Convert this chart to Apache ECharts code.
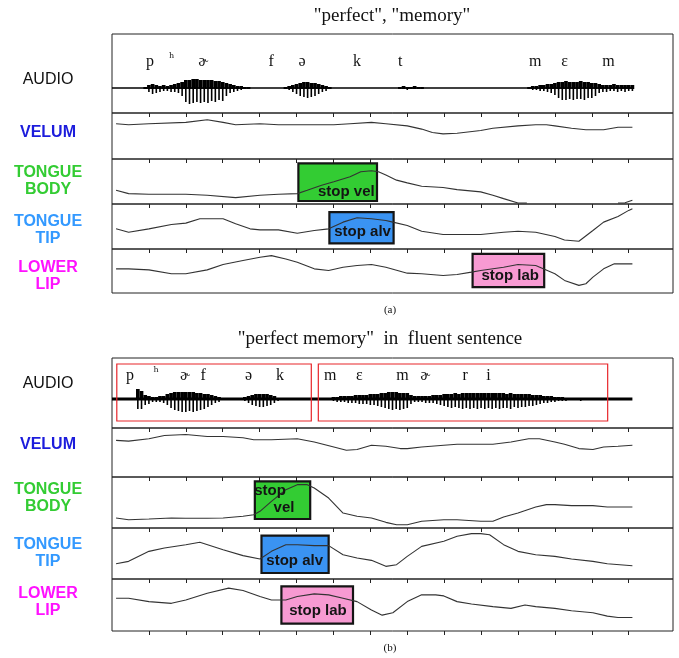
<!DOCTYPE html>
<html><head><meta charset="utf-8">
<script src="https://cdn.jsdelivr.net/npm/echarts@6/dist/echarts.min.js"></script>
<style>html,body{margin:0;padding:0;background:#fff}#c{width:679px;height:658px}</style>
</head><body><div id="c"></div>
<script>
// ---------------- DATA ----------------
const tickTimes = [1,2,3,4,5,6,7,8,9,10,11,12,13,14];
const rowLabels = ['AUDIO','VELUM','TONGUE\nBODY','TONGUE\nTIP','LOWER\nLIP'];
const titleA = '"perfect", "memory"';
const titleB = '"perfect memory"  in  fluent sentence';
const captionA = '(a)';
const captionB = '(b)';

const ipaA  = ['p','ʰ','ɚ','f','ə','k','t','m','ɛ','m'];
const ipaAt = [1.03,1.62,2.47,4.31,5.15,6.64,7.81,11.47,12.26,13.45];
const ipaB  = ['p','ʰ','ɚ','f','ə','k','m','ɛ','m','ɚ','r','i'];
const ipaBt = [0.49,1.2,1.98,2.47,3.7,4.55,5.91,6.7,7.87,8.49,9.57,10.2];

const baselineSpan = [0, 14.1];
const redBoxesB = [[0.13,5.40],[5.59,13.43]];

// audio envelope samples: [time, upward amplitude, downward amplitude]
const audioA = [
 [0.9,1,1],[1.0,3,4],[1.1,4,6],[1.2,3,5],[1.3,2,4],[1.4,3,3],[1.5,2,3],[1.6,3,4],[1.7,4,4],[1.8,5,5],[1.9,6,8],
 [2.0,8,14],[2.1,8,16],[2.2,9,15],[2.3,9,14],[2.4,8,15],[2.5,8,14],[2.6,8,15],[2.7,8,13],[2.8,7,14],[2.9,7,12],[3.0,6,13],[3.1,5,8],
 [3.2,4,5],[3.3,3,4],[3.4,2,3],[3.5,2,2],[3.6,1,1],[3.7,1,1],
 [4.7,1,1],[4.8,2,2],[4.9,3,4],[5.0,4,6],[5.1,5,8],[5.2,6,9],[5.3,6,10],[5.4,5,9],[5.5,5,8],[5.6,4,6],[5.7,3,4],[5.8,2,3],[5.9,1,1],
 [7.8,1,1],[7.9,2,1],[8.0,1,2],[8.1,1,1],[8.2,2,1],[8.3,1,1],[8.4,1,1],
 [11.3,1,1],[11.4,2,2],[11.5,2,2],[11.6,3,3],[11.7,3,3],[11.8,4,4],[11.9,4,5],[12.0,5,7],
 [12.1,6,10],[12.2,6,12],[12.3,7,12],[12.4,6,11],[12.5,6,12],[12.6,6,11],[12.7,7,11],[12.8,6,12],[12.9,6,10],[13.0,5,10],[13.1,5,8],[13.2,4,5],
 [13.3,3,4],[13.4,3,4],[13.5,3,3],[13.6,4,3],[13.7,3,4],[13.8,3,3],[13.9,3,4],[14.0,3,3],[14.1,3,3]
];
const audioB = [
 [0.7,10,10],[0.8,8,10],[0.9,4,6],
 [1.0,3,5],[1.1,2,3],[1.2,2,3],[1.3,3,3],[1.4,3,4],
 [1.5,5,6],[1.6,6,9],[1.7,7,11],[1.8,7,12],[1.9,7,13],[2.0,7,13],[2.1,7,12],[2.2,7,13],[2.3,6,12],[2.4,6,11],[2.5,5,10],[2.6,5,8],[2.7,4,6],[2.8,3,4],[2.9,2,3],[3.0,1,1],
 [3.6,2,2],[3.7,3,4],[3.8,4,6],[3.9,5,7],[4.0,5,8],[4.1,5,8],[4.2,5,7],[4.3,4,6],[4.4,3,4],[4.5,1,2],
 [6.0,2,2],[6.1,2,3],[6.2,3,3],[6.3,3,3],[6.4,3,4],[6.5,3,4],[6.6,4,4],[6.7,4,5],[6.8,4,5],[6.9,4,5],[7.0,5,6],[7.1,5,6],[7.2,5,7],[7.3,6,8],[7.4,6,9],[7.5,7,10],[7.6,7,11],[7.7,7,10],[7.8,6,11],[7.9,6,10],[8.0,6,9],
 [8.1,4,5],[8.2,3,3],[8.3,3,3],[8.4,3,3],[8.5,3,4],[8.6,3,4],[8.7,4,4],[8.8,4,5],[8.9,4,6],
 [9.0,5,7],[9.1,5,8],[9.2,5,9],[9.3,6,8],[9.4,5,9],[9.5,6,10],[9.6,6,9],[9.7,6,10],[9.8,6,9],[9.9,6,10],[10.0,6,9],[10.1,6,10],[10.2,6,9],[10.3,6,10],[10.4,6,9],[10.5,6,10],[10.6,6,9],[10.7,5,9],[10.8,6,10],[10.9,5,8],[11.0,5,9],[11.1,5,8],[11.2,5,8],[11.3,5,7],[11.4,4,7],[11.5,4,6],[11.6,4,5],[11.7,3,4],[11.8,3,4],[11.9,3,3],
 [12.0,2,3],[12.1,2,2],[12.2,2,2],[12.3,1,2],[12.4,1,1],[12.5,1,1],[12.6,1,1],[12.7,1,2],[12.8,1,1],[12.9,1,1]
];

// articulator trajectories: [time, height]
const velumA = [[0.11,76.6],[0.45,74.5],[1.0,76.6],[2.0,79.6],[2.58,85.4],[3.01,79.6],[3.35,74.5],[4.01,76.6],[4.51,74.5],[5.02,74.5],[5.48,74.5],[6.01,74.5],[6.45,76.6],[7.03,79.6],[7.42,76.6],[8.0,72],[8.39,65],[8.68,57.7],[8.97,54.7],[9.35,56],[9.99,62],[10.32,67],[11.0,72],[11.48,74.5],[11.77,74.5],[12.0,72],[12.45,67],[12.84,63.5],[13.32,63.5],[13.71,69],[14.1,69]];
const tongueBodyA = [[0.11,30.6],[0.45,23.1],[1.0,21.6],[2.0,21.6],[2.58,19.4],[3.35,14.2],[4.01,19.4],[4.51,21.6],[5.02,23.1],[5.29,30.6],[5.68,41.8],[6.01,49.3],[6.45,60.4],[6.74,71.6],[7.03,73.9],[7.22,71.6],[7.42,64.2],[7.71,53],[8.0,47],[8.39,39.6],[8.97,36.6],[9.35,32],[9.99,26.9],[10.32,19.4],[10.61,11.9],[11.0,2.2],[11.24,2.2],[11.3,null],[13.65,null],[13.71,2.2],[13.9,2.6],[14.1,8.2]];
const tongueTipA = [[0.11,44.8],[0.45,37.3],[1.0,44.8],[1.61,54.5],[2.0,57.5],[2.38,67.2],[3.01,67.2],[3.35,56],[3.74,44.8],[4.01,42.5],[4.51,42.5],[5.02,35],[5.48,41],[5.87,44.8],[6.26,59.7],[6.64,69.4],[7.03,67.2],[7.42,63.4],[7.61,59.7],[8.0,52.2],[8.39,39.6],[8.97,32.1],[9.99,32.1],[10.61,37.3],[11.0,39.6],[11.48,37.3],[12.0,27.6],[12.26,20.1],[12.65,17.2],[13.03,41],[13.32,59.7],[13.71,72.4],[14.0,85.8],[14.1,89.6]];
const lowerLipA = [[0.11,54.9],[0.45,54.9],[1.0,52.6],[1.61,43.6],[2.0,43.6],[2.58,52.6],[3.01,64.7],[3.55,73.7],[4.01,81.2],[4.32,85],[4.71,77.4],[5.02,69.9],[5.48,54.9],[5.87,51.1],[6.26,58.6],[6.64,62.4],[7.03,64.7],[7.42,58.6],[8.0,45.1],[8.39,43.6],[8.97,39.8],[9.35,42.1],[9.74,47.4],[9.99,51.1],[10.61,58.6],[11.0,64.7],[11.48,62.4],[12.0,43.6],[12.26,28.6],[12.65,17.3],[12.84,21],[13.03,36.1],[13.32,54.9],[13.61,66.2],[13.9,66.2],[14.1,66.2]];

const velumB = [[0.11,74.7],[0.45,73.3],[1.0,78],[1.42,84.7],[2.0,86.7],[2.58,82.7],[3.01,82.7],[3.55,80],[3.84,76],[4.32,76],[5.02,78],[5.48,71.3],[6.01,61.3],[6.35,54.7],[6.64,56],[7.03,64.7],[7.42,62.7],[7.81,58],[8.0,58],[8.39,61.3],[8.99,64.7],[9.35,66.7],[9.99,66.7],[10.32,66.7],[10.81,71.3],[11.29,78],[11.58,78],[12.0,71.3],[12.26,66.7],[12.65,58],[13.03,56],[13.32,61.3],[13.71,62.7],[14.1,64.7]];
const tongueBodyB = [[0.11,19.6],[0.45,16.3],[1.0,17.6],[1.61,19.6],[2.0,19],[2.58,19],[3.01,19.6],[3.55,22.9],[3.84,26.1],[4.01,32.7],[4.32,52.3],[4.71,75.2],[5.02,85],[5.29,85],[5.48,78.4],[5.87,58.8],[6.26,29.4],[6.64,22.9],[7.03,19.6],[7.42,11.1],[7.71,6.5],[8.0,6.5],[8.39,13.1],[8.99,16.3],[9.35,16.3],[9.99,13.1],[10.32,13.1],[10.61,21.6],[11.0,29.4],[11.48,41.2],[11.77,45.8],[12.0,45.8],[12.45,43.8],[13.03,43.8],[13.42,41.2],[14.1,41.2]];
const tongueTipB = [[0.11,30],[0.45,34.6],[1.0,54.2],[1.42,60.8],[2.0,67.3],[2.38,71.9],[3.01,57.5],[3.55,45.8],[4.01,39.2],[4.32,54.2],[4.71,67.3],[5.02,67.3],[5.48,65.4],[5.87,65.4],[6.26,47.7],[6.64,41.2],[7.03,36.6],[7.42,24.8],[7.71,28.1],[8.0,44.4],[8.39,64],[8.99,73.9],[9.35,83.7],[9.74,88.9],[9.99,88.9],[10.23,86.9],[10.61,67.3],[11.0,54.2],[11.48,47.7],[12.0,44.4],[12.45,39.2],[13.03,34.6],[13.42,30],[14.1,26.1]];
const lowerLipB = [[0.11,63],[0.45,63],[1.0,56.5],[1.61,53.2],[2.0,59.7],[2.58,72.7],[3.16,82.5],[3.55,77.9],[4.01,66.2],[4.32,59.7],[4.71,59.7],[5.02,66.2],[5.48,71.4],[5.87,69.5],[6.26,63],[6.64,56.5],[7.03,40.3],[7.32,30.5],[7.61,35.1],[8.0,56.5],[8.39,69.5],[8.77,69.5],[8.99,67.5],[9.35,56.5],[9.74,51.9],[10.32,46.8],[10.81,43.5],[11.19,50],[11.48,46.8],[12.0,43.5],[12.45,39],[13.03,35.1],[13.42,28.6],[13.71,26],[14.1,26]];

// gesture boxes: [start time, end time, low, high]
const stopVelA = [5.05,7.18,6.7,90.3];
const stopAlvA = [5.89,7.63,12.7,82];
const stopLabA = [9.77,11.71,13.5,88.7];
const stopVelB = [3.87,5.37,17.6,91.5];
const stopAlvB = [4.05,5.87,11.8,85];
const stopLabB = [4.59,6.53,14.3,85.7];
// box label anchors: [time, height, text]
const labVelA = [[6.35,28,'stop vel']];
const labAlvA = [[6.79,37,'stop alv']];
const labLabA = [[10.79,38,'stop lab']];
const labVelB = [[4.28,72,'stop'],[4.66,39,'vel']];
const labAlvB = [[4.95,34.6,'stop alv']];
const labLabB = [[5.58,39,'stop lab']];

// ---------------- LAYOUT ----------------
const rowsA = [[34,79],[113,46],[159,45],[204,45],[249,44]];
const rowsB = [[358,70],[428,49],[477,51],[528,51],[579,52]];
const rows = rowsA.concat(rowsB);
const labelColors = ['#111111','#1c1cdc','#33cc33','#3399ff','#ff11ff'];
const SANS = 'Liberation Sans, Arial, sans-serif';
const SERIF = 'Liberation Serif, DejaVu Serif, serif';

const grid = rows.map(r => ({left:112, width:561, top:r[0], height:r[1], show:true,
  borderColor:'#222', borderWidth:1, backgroundColor:'transparent'}));
const xAxis = rows.map((r,i) => ({
  type:'value', gridIndex:i, min:0, max:15.2, position:'top',
  axisLine:{show:false, onZero:false}, axisLabel:{show:false}, splitLine:{show:false},
  axisTick:{show: i!==0 && i!==5, inside:true, length:4, customValues:tickTimes, lineStyle:{color:'#222', width:1}}
}));
xAxis.push({type:'value', gridIndex:9, min:0, max:15.2, position:'bottom',
  axisLine:{show:false, onZero:false}, axisLabel:{show:false}, splitLine:{show:false},
  axisTick:{show:true, inside:false, length:4, customValues:tickTimes, lineStyle:{color:'#222', width:1}}});
const yAxis = rows.map((r,i) => ({type:'value', gridIndex:i, show:false,
  min: i===0 ? -25 : (i===5 ? -29 : 0), max: i===0 ? 54 : (i===5 ? 41 : 100)}));

const series = [];
function lineS(idx, data, width, color){
  series.push({type:'line', xAxisIndex:idx, yAxisIndex:idx, data:data, showSymbol:false, symbol:'none',
    connectNulls:false, silent:true, animation:false, z:4,
    lineStyle:{color:color||'#333', width:width||1.1}});
}
function boxS(idx, box, fill){
  series.push({type:'custom', xAxisIndex:idx, yAxisIndex:idx, data:[box], silent:true, animation:false, z:2, clip:false,
    renderItem:function(p, api){
      const a = api.coord([api.value(0), api.value(3)]);
      const b = api.coord([api.value(1), api.value(2)]);
      return {type:'rect', shape:{x:a[0], y:a[1], width:b[0]-a[0], height:b[1]-a[1]},
        style:{fill:fill, stroke:'#151515', lineWidth:2.2}};
    }});
}
function textS(idx, arr){
  series.push({type:'custom', xAxisIndex:idx, yAxisIndex:idx, data:arr.map(d=>[d[0],d[1]]), silent:true, animation:false, z:6, clip:false,
    renderItem:function(p, api){
      const c = api.coord([api.value(0), api.value(1)]);
      return {type:'text', style:{text:arr[p.dataIndex][2], x:c[0], y:c[1], fill:'#141414',
        fontSize:15, fontWeight:'bold', fontFamily:SANS, align:'center', verticalAlign:'middle'}};
    }});
}
function audioS(idx, data){
  series.push({type:'custom', xAxisIndex:idx, yAxisIndex:idx, data:data, silent:true, animation:false, z:3, clip:false,
    renderItem:function(p, api){
      const t = api.value(0);
      const top = api.coord([t, api.value(1)]);
      const bot = api.coord([t, -api.value(2)]);
      const base = api.coord([t, 0]);
      const w = api.size([0.1, 0])[0];
      return {type:'group', children:[
        {type:'rect', shape:{x:top[0]-w/2, y:top[1], width:w, height:base[1]-top[1]+1}, style:{fill:'#000'}},
        {type:'line', shape:{x1:top[0], y1:top[1], x2:bot[0], y2:bot[1]}, style:{stroke:'#000', lineWidth:1.6}}
      ]};
    }});
}
function ipaS(idx, letters, times, yv){
  series.push({type:'custom', xAxisIndex:idx, yAxisIndex:idx, data:times.map(t=>[t, yv]), silent:true, animation:false, z:6, clip:false,
    renderItem:function(p, api){
      const c = api.coord([api.value(0), api.value(1)]);
      const ch = letters[p.dataIndex];
      const small = ch === 'ʰ';
      return {type:'text', style:{text:ch, x:c[0], y:c[1] - (small ? 3 : 0), fill:'#111',
        fontSize: small ? 13 : 16, fontFamily: small ? 'DejaVu Serif, serif' : SERIF, align:'center', verticalAlign:'middle'}};
    }});
}
function redBoxS(idx, boxes){
  series.push({type:'custom', xAxisIndex:idx, yAxisIndex:idx, data:boxes, silent:true, animation:false, z:5, clip:false,
    renderItem:function(p, api){
      const a = api.coord([api.value(0), 35]);
      const b = api.coord([api.value(1), -22]);
      return {type:'rect', shape:{x:a[0], y:a[1], width:b[0]-a[0], height:b[1]-a[1]},
        style:{fill:'none', stroke:'#e8262b', lineWidth:1.2}};
    }});
}

// panel (a)
lineS(0, [[baselineSpan[0],0],[baselineSpan[1],0]], 1.6, '#000');
audioS(0, audioA);
ipaS(0, ipaA, ipaAt, 26);
lineS(1, velumA);
boxS(2, stopVelA, '#33cc33'); lineS(2, tongueBodyA); textS(2, labVelA);
boxS(3, stopAlvA, '#3a93f2'); lineS(3, tongueTipA); textS(3, labAlvA);
boxS(4, stopLabA, '#f79ad2'); lineS(4, lowerLipA); textS(4, labLabA);
// panel (b)
lineS(5, [[baselineSpan[0],0],[baselineSpan[1],0]], 3, '#000');
audioS(5, audioB);
ipaS(5, ipaB, ipaBt, 23);
redBoxS(5, redBoxesB);
lineS(6, velumB);
boxS(7, stopVelB, '#33cc33'); lineS(7, tongueBodyB); textS(7, labVelB);
boxS(8, stopAlvB, '#3a93f2'); lineS(8, tongueTipB); textS(8, labAlvB);
boxS(9, stopLabB, '#f79ad2'); lineS(9, lowerLipB); textS(9, labLabB);

// text graphics
const labelYA = [80,133,181,230,276];
const labelYB = [384,445,498,553,602];
const graphic = [];
function addLabels(ys){
  ys.forEach((y,i)=>{
    graphic.push({type:'text', x:48, y:y, silent:true, style:{text:rowLabels[i], x:0, y:0,
      fill:labelColors[i], fontSize:16, fontWeight: i===0 ? 'normal' : 'bold', fontFamily:SANS,
      align:'center', verticalAlign:'middle', lineHeight:17}});
  });
}
addLabels(labelYA); addLabels(labelYB);
graphic.push({type:'text', x:392, y:16, silent:true, style:{text:titleA, fill:'#111', fontSize:19, fontFamily:SERIF, align:'center', verticalAlign:'middle'}});
graphic.push({type:'text', x:380, y:339, silent:true, style:{text:titleB, fill:'#111', fontSize:19, fontFamily:SERIF, align:'center', verticalAlign:'middle'}});
graphic.push({type:'text', x:390, y:310, silent:true, style:{text:captionA, fill:'#111', fontSize:11, fontFamily:SERIF, align:'center', verticalAlign:'middle'}});
graphic.push({type:'text', x:390, y:648, silent:true, style:{text:captionB, fill:'#111', fontSize:11, fontFamily:SERIF, align:'center', verticalAlign:'middle'}});

const chart = echarts.init(document.getElementById('c'), null, {renderer:'canvas'});
chart.setOption({animation:false, backgroundColor:'#fff', grid:grid, xAxis:xAxis, yAxis:yAxis, series:series, graphic:graphic});
</script>
</body></html>
